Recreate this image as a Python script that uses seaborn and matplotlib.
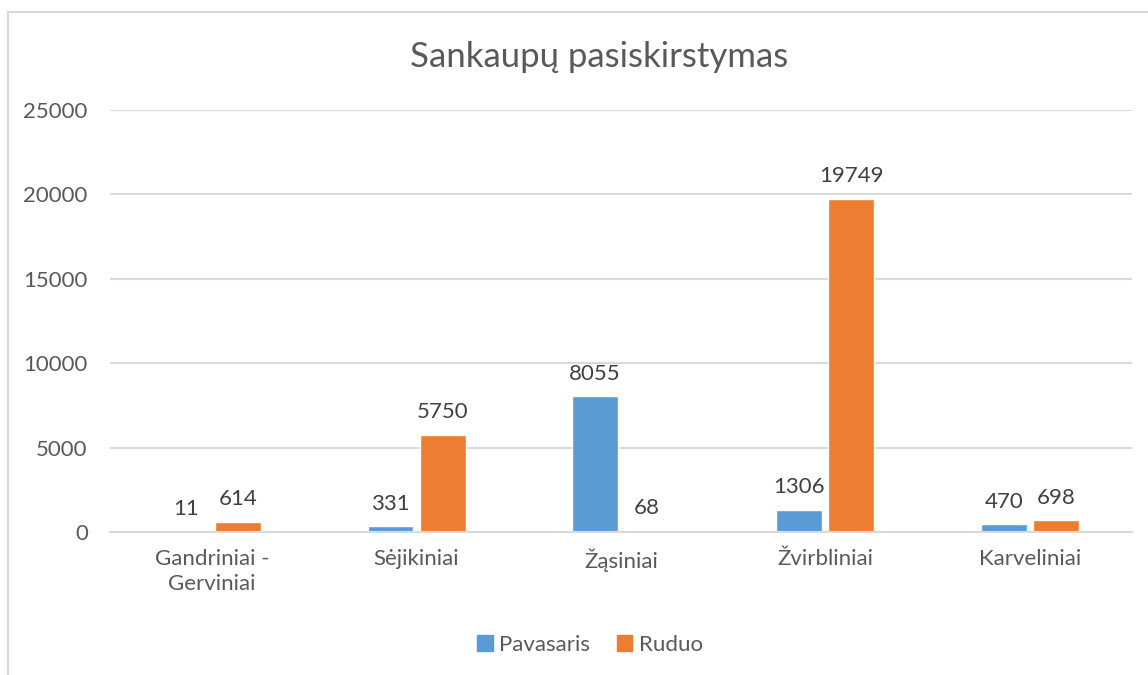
import pandas as pd
import numpy as np
import matplotlib.pyplot as plt
import seaborn as sns
from matplotlib.patches import Rectangle, Patch

categories = ["Gandriniai -\nGerviniai", "Sėjikiniai", "Žąsiniai", "Žvirbliniai", "Karveliniai"]
pavasaris = [11, 331, 8055, 1306, 470]
ruduo = [614, 5750, 68, 19749, 698]
series = ["Pavasaris", "Ruduo"]
colors = ["#5B9BD5", "#ED7D31"]

df = pd.DataFrame({
    "Kategorija": categories * 2,
    "Sezonas": [series[0]] * 5 + [series[1]] * 5,
    "Kiekis": pavasaris + ruduo,
})

sns.set_style("white")
plt.rcParams["font.family"] = ["Lato", "DejaVu Sans"]
txt = "#595959"

fig = plt.figure(figsize=(11.48, 6.75), dpi=100)
ax = fig.add_axes([0.0958, 0.2119, 0.8902, 0.6251])

sns.barplot(data=df, x="Kategorija", y="Kiekis", hue="Sezonas", palette=colors,
            saturation=1, width=0.51, gap=0.12, ax=ax, legend=False)

for cont in ax.containers:
    ax.bar_label(cont, labels=[f"{int(v)}" for v in cont.datavalues],
                 padding=9, fontsize=16, color="#404040")

ax.set_ylim(0, 25000)
ax.set_yticks(range(0, 25001, 5000))
ax.grid(axis="y", color="#D9D9D9", linewidth=1.5)
ax.set_axisbelow(True)
for s in ["top", "right", "left"]:
    ax.spines[s].set_visible(False)
ax.spines["bottom"].set_color("#D9D9D9")
ax.spines["bottom"].set_linewidth(1.5)
ax.tick_params(axis="both", length=0, labelsize=16, labelcolor=txt)
ax.tick_params(axis="y", pad=16)
ax.tick_params(axis="x", pad=12)
for lab in ax.get_xticklabels():
    lab.set_linespacing(1.35)
ax.set_xlabel("")
ax.set_ylabel("")

fig.text(0.522, 0.915, "Sankaupų pasiskirstymas", ha="center", va="center",
         fontsize=25, color=txt)

handles = [Patch(color=c, label=l) for c, l in zip(colors, series)]
fig.legend(handles=handles, loc="center", bbox_to_anchor=(0.514, 0.045), ncol=2,
           frameon=False, fontsize=16, labelcolor=txt, handlelength=0.7,
           handleheight=0.7, handletextpad=0.3, columnspacing=1.2)

fig.patches.append(Rectangle((8 / 1148, -0.1), 1.2, 1 - 12 / 675 + 0.1,
                             transform=fig.transFigure, fill=False,
                             edgecolor="#D9D9D9", linewidth=1.5))

fig.savefig("out.png", dpi=100)
